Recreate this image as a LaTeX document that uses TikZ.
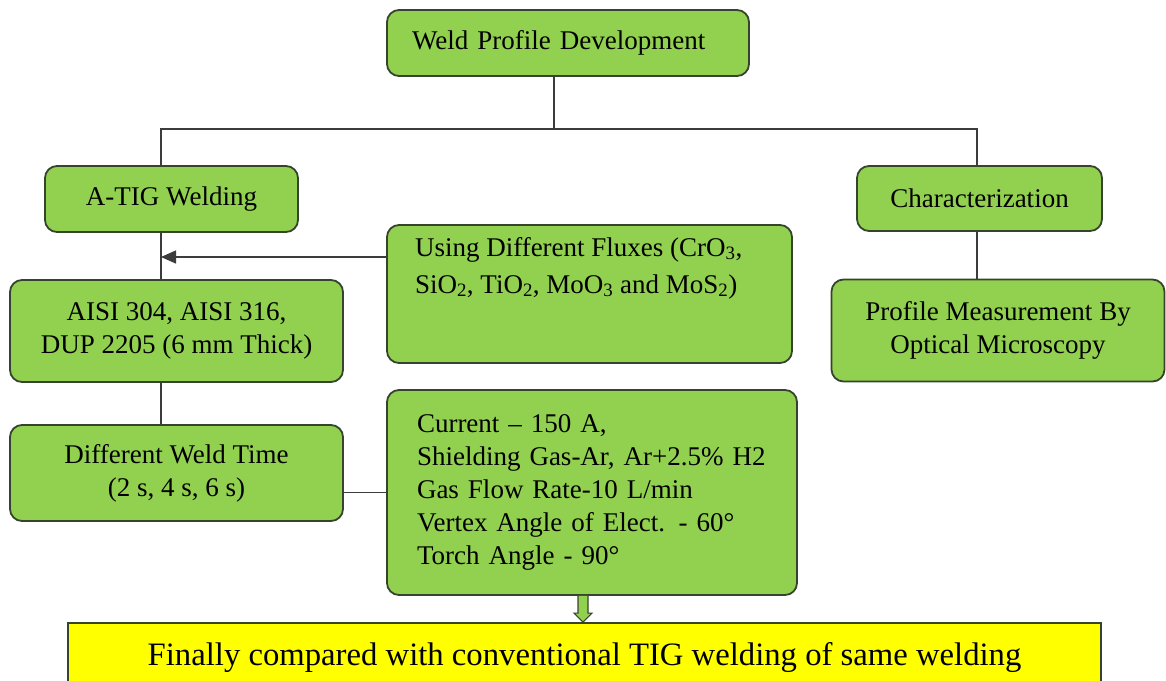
\documentclass[tikz,border=0pt]{standalone}
\usepackage{fontspec}
\setmainfont{Liberation Serif}
\usetikzlibrary{arrows.meta}
\definecolor{lgreen}{RGB}{146,208,80}
\definecolor{bordc}{RGB}{55,68,45}
\definecolor{linec}{RGB}{60,60,60}
\definecolor{yell}{RGB}{255,255,0}
\tikzset{
  gbox/.style={rounded corners=12pt, fill=lgreen, draw=bordc, line width=1.8pt,
    inner sep=0pt, align=center, font=\fontsize{27}{33}\selectfont},
  ybox/.style={fill=yell, draw=bordc, line width=1.8pt, inner sep=0pt,
    font=\fontsize{32.7}{38}\selectfont},
  conn/.style={draw=linec, line width=1.5pt},
  arrowfill/.style={fill=lgreen, draw=bordc, line width=1.2pt, line join=miter}
}
\begin{document}
\begin{tikzpicture}[x=1pt,y=-1pt]
\useasboundingbox (0,0) rectangle (1166,680);
\clip (0,0) rectangle (1166,680);
\fill[white] (0,0) rectangle (1166,680);

% boxes
\node[gbox, minimum width=362pt, minimum height=66pt, text width=312pt, align=left]
  (top) at (568,43) {Weld Profile Development};
\node[gbox, minimum width=253pt, minimum height=66pt] (atig) at (171.5,199) {A-TIG Welding};
\node[gbox, minimum width=245pt, minimum height=65pt] (char) at (979.5,198.5) {Characterization};
\node[gbox, minimum width=333pt, minimum height=102pt] (prof) at (998,330.5)
  {Profile Measurement By\\Optical Microscopy};
\node[gbox, minimum width=333pt, minimum height=102pt] (aisi) at (176.5,331)
  {AISI 304, AISI 316,\\DUP 2205 (6 mm Thick)};
\node[gbox, minimum width=333pt, minimum height=96pt] (weld) at (176.5,473)
  {Different Weld Time\\(2 s, 4 s, 6 s)};
\node[gbox, minimum width=405pt, minimum height=138pt] (flux) at (589.5,294)
  {\parbox[c][138pt][t]{349pt}{\fontsize{27}{37}\selectfont\vspace*{12pt}%
   Using Different Fluxes (CrO\textsubscript{3},\\
   SiO\textsubscript{2}, TiO\textsubscript{2}, MoO\textsubscript{3} and MoS\textsubscript{2})}};
\node[gbox, minimum width=410pt, minimum height=205pt, text width=350pt, align=left]
  (curr) at (592,492.5)
  {Current -- 150 A,\\
   Shielding Gas-Ar, Ar+2.5\% H2\\
   Gas Flow Rate-10 L/min\\
   Vertex Angle of Elect. - 60°\\
   Torch Angle - 90°};
\node[ybox, minimum width=1033pt, minimum height=69pt] (final) at (584.5,657.5)
  {Finally compared with conventional TIG welding of same welding};

% connectors
\coordinate (busM) at (554,129);
\coordinate (busL) at (161,129);
\coordinate (busR) at (977,129);
\coordinate (arrTip) at (161,257);
\draw[conn] (top.south -| busM) -- (busM);
\draw[conn] (busL |- atig.north) -- (busL) -- (busR) -- (busR |- char.north);
\draw[conn] (busR |- char.south) -- (busR |- prof.north);
\draw[conn] (busL |- atig.south) -- (busL |- aisi.north);
\draw[conn] (busL |- aisi.south) -- (busL |- weld.north);
\draw[conn, -{Triangle[length=15pt,width=13pt]}] (flux.west |- arrTip) -- (arrTip);
\draw[conn] (weld.east |- curr.west) -- (curr.west);

% hollow green arrow
\coordinate (aTop) at (curr.south -| 583,0);
\coordinate (aTip) at (final.north -| 583,0);
\draw[arrowfill] ([xshift=-5pt]aTop) -- ([xshift=-5pt,yshift=9pt]aTip)
  -- ([xshift=-9pt,yshift=9pt]aTip) -- (aTip) -- ([xshift=9pt,yshift=9pt]aTip)
  -- ([xshift=5pt,yshift=9pt]aTip) -- ([xshift=5pt]aTop);
\end{tikzpicture}
\end{document}
